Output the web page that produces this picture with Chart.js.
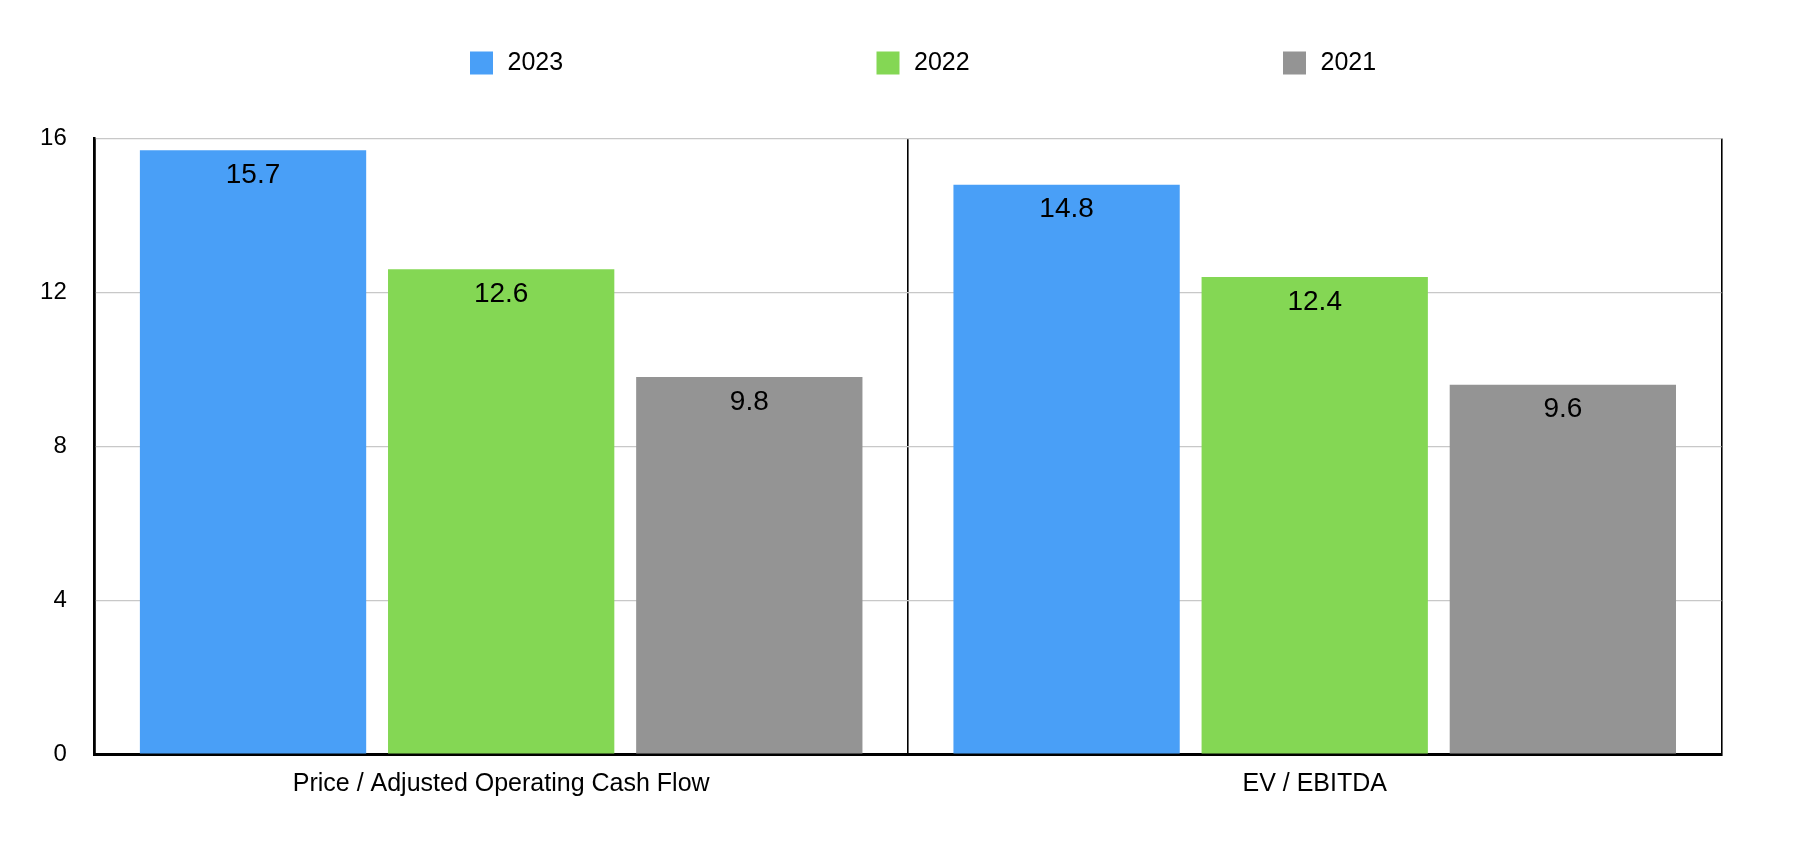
<!DOCTYPE html>
<html>
<head>
<meta charset="utf-8">
<script src="https://cdn.jsdelivr.net/npm/chart.js@4/dist/chart.umd.min.js"></script>
<style>
  html, body { margin: 0; padding: 0; background: #ffffff; }
  #wrap { width: 1798px; height: 864px; }
</style>
</head>
<body>
<div id="wrap"><canvas id="c" width="1798" height="864"></canvas></div>
<script>
const categories = ['Price / Adjusted Operating Cash Flow', 'EV / EBITDA'];
const seriesNames = ['2023', '2022', '2021'];
const values2023 = [15.7, 14.8];
const values2022 = [12.6, 12.4];
const values2021 = [9.8, 9.6];
const yTickValues = [0, 4, 8, 12, 16];

const seriesColors = ['#499ff7', '#84d754', '#949494'];
const FONT = '"Liberation Sans", Arial, Helvetica, sans-serif';

const valueLabels = {
  id: 'valueLabels',
  afterDatasetsDraw(chart) {
    const ctx = chart.ctx;
    ctx.save();
    ctx.fillStyle = '#000';
    ctx.font = '28px ' + FONT;
    ctx.textAlign = 'center';
    ctx.textBaseline = 'middle';
    chart.data.datasets.forEach((ds, di) => {
      const meta = chart.getDatasetMeta(di);
      meta.data.forEach((el, i) => {
        ctx.fillText(String(ds.data[i]), el.x, el.y + 25);
      });
    });
    ctx.restore();
  }
};

const topLegend = {
  id: 'topLegend',
  afterDraw(chart) {
    const ctx = chart.ctx;
    ctx.save();
    ctx.font = '25px ' + FONT;
    ctx.textBaseline = 'middle';
    ctx.textAlign = 'left';
    const startX = 470;
    chart.data.datasets.forEach((ds, i) => {
      const x = startX + i * 406.5;
      ctx.fillStyle = ds.backgroundColor;
      ctx.fillRect(x, 51.5, 23, 23);
      ctx.fillStyle = '#000';
      ctx.fillText(ds.label, x + 37.5, 63.5);
    });
    ctx.restore();
  }
};

const seriesValues = [values2023, values2022, values2021];

new Chart(document.getElementById('c'), {
  type: 'bar',
  data: {
    labels: categories,
    datasets: seriesNames.map((name, i) => ({
      label: name,
      data: seriesValues[i],
      backgroundColor: seriesColors[i],
      borderWidth: 0,
      categoryPercentage: 0.915,
      barPercentage: 0.912
    }))
  },
  options: {
    responsive: false,
    devicePixelRatio: 1,
    animation: false,
    layout: { padding: { top: 138.6, right: 76.5, bottom: 44, left: 12.5 } },
    plugins: {
      legend: { display: false },
      tooltip: { enabled: false }
    },
    scales: {
      x: {
        grid: { offset: true, color: '#000', lineWidth: 1.6, drawTicks: false },
        border: { display: true, color: '#000', width: 3 },
        ticks: { color: '#000', font: { family: FONT, size: 25 }, padding: 15, maxRotation: 0 },
        afterFit(scale) { scale.height = 66; }
      },
      y: {
        min: 0,
        max: 16,
        grid: { color: '#c8c8c8', lineWidth: 1.2, drawTicks: false },
        border: { display: true, color: '#000', width: 2.5 },
        ticks: {
          color: '#000',
          font: { family: FONT, size: 24 },
          padding: 27.6,
          stepSize: 4
        },
        afterBuildTicks(scale) { scale.ticks = yTickValues.map(v => ({ value: v })); }
      }
    }
  },
  plugins: [valueLabels, topLegend]
});
</script>
</body>
</html>
